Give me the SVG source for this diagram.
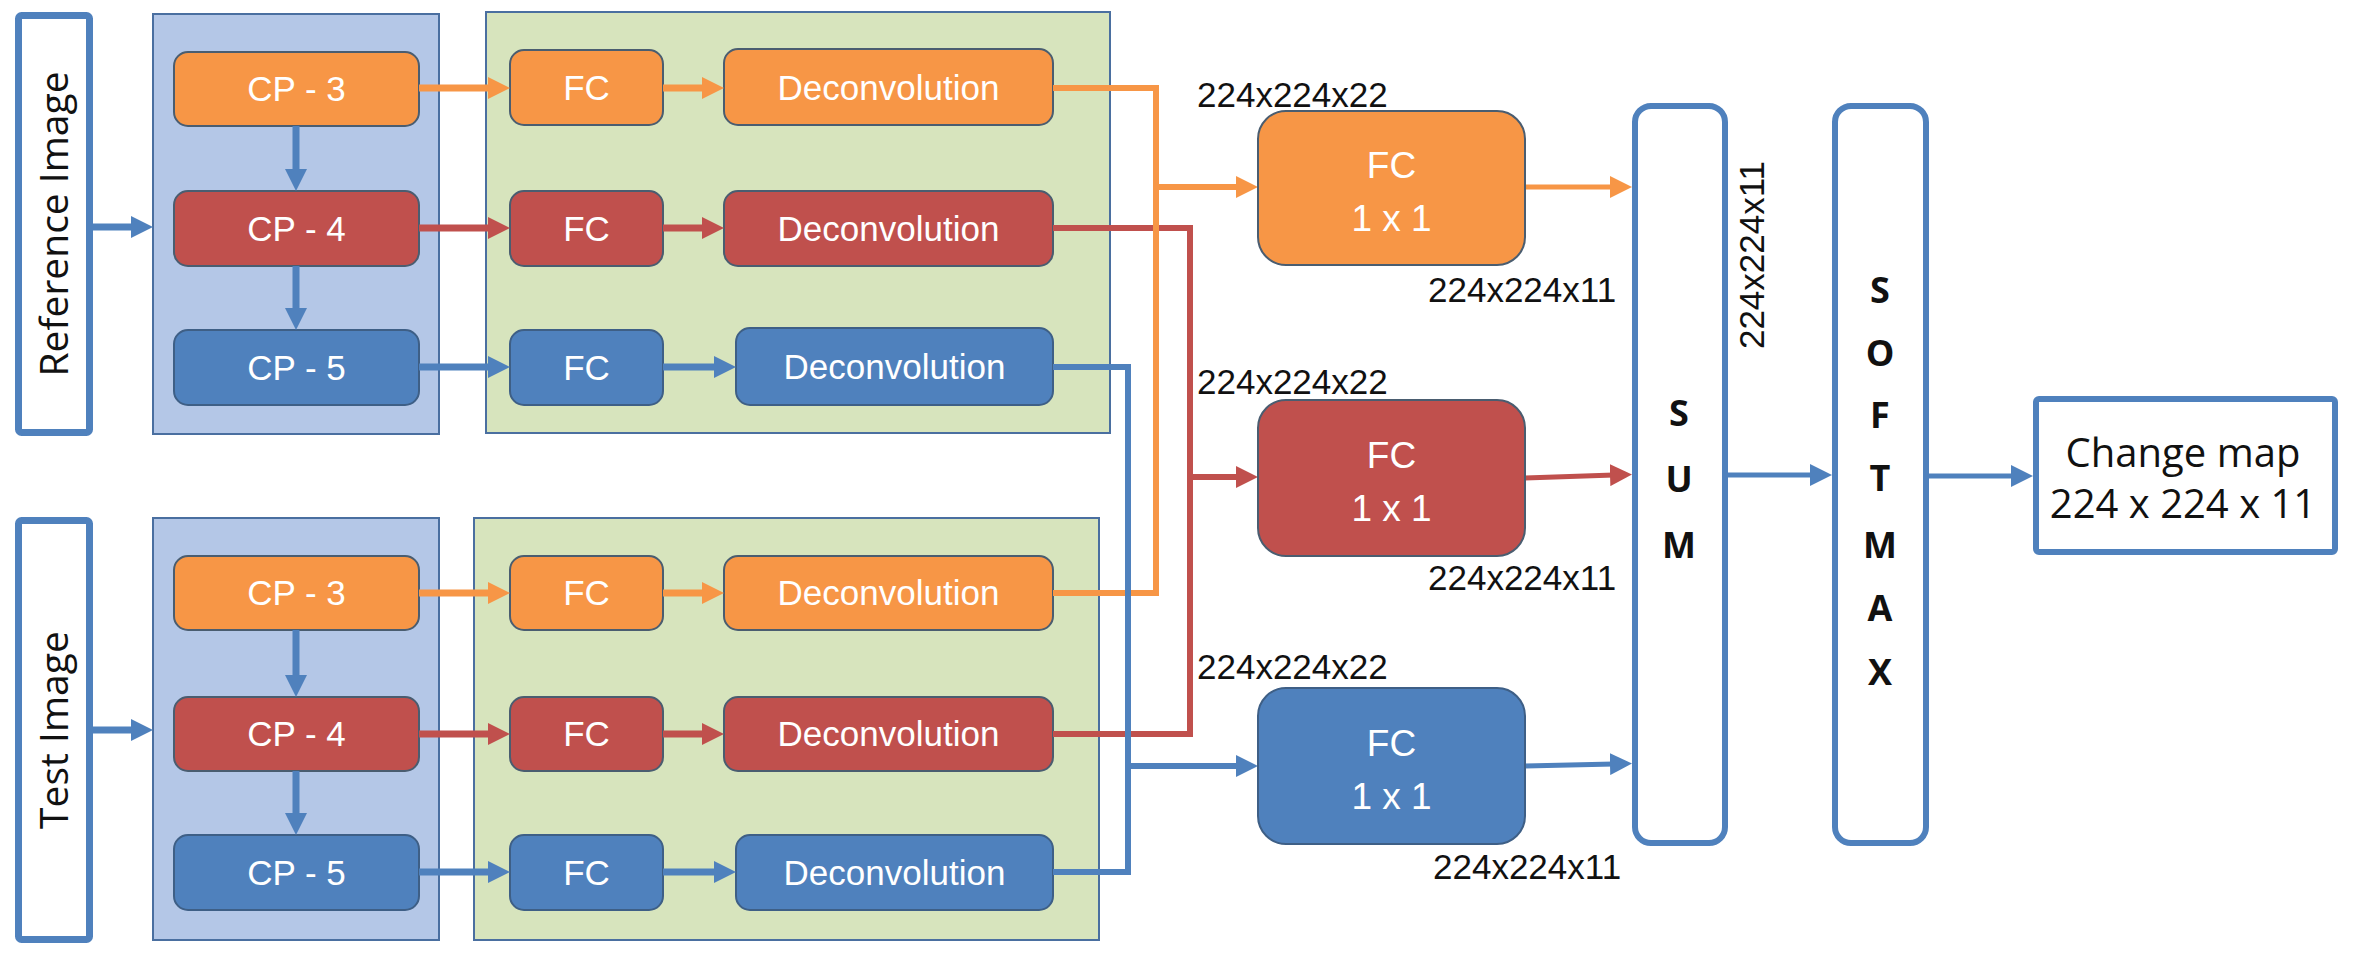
<svg xmlns="http://www.w3.org/2000/svg" width="2356" height="958" viewBox="0 0 2356 958">
<style>
.panelB{fill:#B4C7E7;stroke:#4A6FA0;stroke-width:2}
.panelG{fill:#D7E4BD;stroke:#4A6FA0;stroke-width:2}
.io{fill:#fff;stroke:#4F81BD;stroke-width:7}
.op{fill:#fff;stroke:#4F81BD;stroke-width:6}
.or{fill:#F79646;stroke:#4A5D70;stroke-width:2}
.rd{fill:#C0504D;stroke:#4A5D70;stroke-width:2}
.bl{fill:#4F81BD;stroke:#3E5F86;stroke-width:2}
.lbl{font-family:"Liberation Sans",Arial,sans-serif;font-size:35px;fill:#fff;text-anchor:middle}
.big{font-family:"Liberation Sans",Arial,sans-serif;font-size:37px;fill:#fff;text-anchor:middle}
.dim{font-family:"Liberation Sans",Arial,sans-serif;font-size:35px;fill:#111}
.side{font-family:"Open Sans","DejaVu Sans",sans-serif;font-size:39px;fill:#111;text-anchor:middle}
.let{font-family:"Open Sans","DejaVu Sans",sans-serif;font-weight:bold;font-size:36px;fill:#111;text-anchor:middle}
.cm{font-family:"Open Sans","DejaVu Sans",sans-serif;font-size:40px;fill:#111;text-anchor:middle}
.c{fill:none;stroke-linejoin:miter;stroke-linecap:butt}
.co{stroke:#F79646}.cr{stroke:#C0504D}.cb{stroke:#4F81BD}
.w7{stroke-width:7}.w6{stroke-width:6}.w5{stroke-width:5}
</style>
<defs>
<marker id="ho" markerUnits="userSpaceOnUse" markerWidth="22" markerHeight="22" refX="4" refY="11" orient="auto"><path d="M0,0 L22,11 L0,22 z" fill="#F79646"/></marker>
<marker id="hr" markerUnits="userSpaceOnUse" markerWidth="22" markerHeight="22" refX="4" refY="11" orient="auto"><path d="M0,0 L22,11 L0,22 z" fill="#C0504D"/></marker>
<marker id="hb" markerUnits="userSpaceOnUse" markerWidth="22" markerHeight="22" refX="4" refY="11" orient="auto"><path d="M0,0 L22,11 L0,22 z" fill="#4F81BD"/></marker>
</defs>
<rect width="2356" height="958" fill="#fff"/>

<g id="panels">
<rect class="panelB" x="153" y="14" width="286" height="420"/>
<rect class="panelG" x="486" y="12" width="624" height="421"/>
<rect class="panelB" x="153" y="518" width="286" height="422"/>
<rect class="panelG" x="474" y="518" width="625" height="422"/>
</g>

<g id="reference-image"><rect class="io" x="18.5" y="15.5" width="71" height="417" rx="3"/><text class="side" transform="translate(68,224) rotate(-90)">Reference Image</text></g>
<g id="test-image"><rect class="io" x="18.5" y="520.5" width="71" height="419" rx="3"/><text class="side" transform="translate(68,730) rotate(-90)">Test Image</text></g>

<g id="ref-cp3"><rect class="or" x="174" y="52" width="245" height="74" rx="14"/><text class="lbl" x="296.5" y="101">CP - 3</text></g>
<g id="ref-cp4"><rect class="rd" x="174" y="191" width="245" height="75" rx="14"/><text class="lbl" x="296.5" y="241">CP - 4</text></g>
<g id="ref-cp5"><rect class="bl" x="174" y="330" width="245" height="75" rx="14"/><text class="lbl" x="296.5" y="380">CP - 5</text></g>
<g id="ref-fc3"><rect class="or" x="510" y="50" width="153" height="75" rx="14"/><text class="lbl" x="586.5" y="100">FC</text></g>
<g id="ref-fc4"><rect class="rd" x="510" y="191" width="153" height="75" rx="14"/><text class="lbl" x="586.5" y="241">FC</text></g>
<g id="ref-fc5"><rect class="bl" x="510" y="330" width="153" height="75" rx="14"/><text class="lbl" x="586.5" y="380">FC</text></g>
<g id="ref-dc3"><rect class="or" x="724" y="49" width="329" height="76" rx="14"/><text class="lbl" x="888.5" y="100">Deconvolution</text></g>
<g id="ref-dc4"><rect class="rd" x="724" y="191" width="329" height="75" rx="14"/><text class="lbl" x="888.5" y="241">Deconvolution</text></g>
<g id="ref-dc5"><rect class="bl" x="736" y="328" width="317" height="77" rx="14"/><text class="lbl" x="894.5" y="379">Deconvolution</text></g>

<g id="test-cp3"><rect class="or" x="174" y="556" width="245" height="74" rx="14"/><text class="lbl" x="296.5" y="605">CP - 3</text></g>
<g id="test-cp4"><rect class="rd" x="174" y="697" width="245" height="74" rx="14"/><text class="lbl" x="296.5" y="746">CP - 4</text></g>
<g id="test-cp5"><rect class="bl" x="174" y="835" width="245" height="75" rx="14"/><text class="lbl" x="296.5" y="885">CP - 5</text></g>
<g id="test-fc3"><rect class="or" x="510" y="556" width="153" height="74" rx="14"/><text class="lbl" x="586.5" y="605">FC</text></g>
<g id="test-fc4"><rect class="rd" x="510" y="697" width="153" height="74" rx="14"/><text class="lbl" x="586.5" y="746">FC</text></g>
<g id="test-fc5"><rect class="bl" x="510" y="835" width="153" height="75" rx="14"/><text class="lbl" x="586.5" y="885">FC</text></g>
<g id="test-dc3"><rect class="or" x="724" y="556" width="329" height="74" rx="14"/><text class="lbl" x="888.5" y="605">Deconvolution</text></g>
<g id="test-dc4"><rect class="rd" x="724" y="697" width="329" height="74" rx="14"/><text class="lbl" x="888.5" y="746">Deconvolution</text></g>
<g id="test-dc5"><rect class="bl" x="736" y="835" width="317" height="75" rx="14"/><text class="lbl" x="894.5" y="885">Deconvolution</text></g>

<g id="connectors">
<path class="c cb w7" d="M93,227 H135" marker-end="url(#hb)"/>
<path class="c cb w7" d="M93,730 H135" marker-end="url(#hb)"/>
<path class="c cb w7" d="M296,126 V173" marker-end="url(#hb)"/>
<path class="c cb w7" d="M296,266 V312" marker-end="url(#hb)"/>
<path class="c cb w7" d="M296,630 V679" marker-end="url(#hb)"/>
<path class="c cb w7" d="M296,771 V817" marker-end="url(#hb)"/>
<path class="c co w7" d="M419,88 H492" marker-end="url(#ho)"/>
<path class="c cr w7" d="M419,228 H492" marker-end="url(#hr)"/>
<path class="c cb w7" d="M419,367 H492" marker-end="url(#hb)"/>
<path class="c co w7" d="M663,88 H706" marker-end="url(#ho)"/>
<path class="c cr w7" d="M663,228 H706" marker-end="url(#hr)"/>
<path class="c cb w7" d="M663,367 H718" marker-end="url(#hb)"/>
<path class="c co w7" d="M419,593 H492" marker-end="url(#ho)"/>
<path class="c cr w7" d="M419,734 H492" marker-end="url(#hr)"/>
<path class="c cb w7" d="M419,872 H492" marker-end="url(#hb)"/>
<path class="c co w7" d="M663,593 H706" marker-end="url(#ho)"/>
<path class="c cr w7" d="M663,734 H706" marker-end="url(#hr)"/>
<path class="c cb w7" d="M663,872 H718" marker-end="url(#hb)"/>

<path class="c cr w6" d="M1053,228 H1190 V734 H1053"/>
<path class="c cr w6" d="M1190,477 H1240" marker-end="url(#hr)"/>
<path class="c co w6" d="M1053,88 H1156 V593 H1053"/>
<path class="c co w6" d="M1156,187 H1240" marker-end="url(#ho)"/>
<path class="c cb w6" d="M1053,367 H1128 V872 H1053"/>
<path class="c cb w6" d="M1128,766 H1240" marker-end="url(#hb)"/>

<path class="c co w5" d="M1525,187 H1614" marker-end="url(#ho)"/>
<path class="c cr w5" d="M1525,478 L1614,475" marker-end="url(#hr)"/>
<path class="c cb w5" d="M1525,766 L1614,764" marker-end="url(#hb)"/>
<path class="c cb w5" d="M1728,475 H1814" marker-end="url(#hb)"/>
<path class="c cb w5" d="M1929,476 H2015" marker-end="url(#hb)"/>
</g>

<g id="fc1x1-orange"><rect class="or" x="1258" y="111" width="267" height="154" rx="28"/><text class="big" x="1391.5" y="178">FC</text><text class="big" x="1391.5" y="231">1 x 1</text></g>
<g id="fc1x1-red"><rect class="rd" x="1258" y="400" width="267" height="156" rx="28"/><text class="big" x="1391.5" y="468">FC</text><text class="big" x="1391.5" y="521">1 x 1</text></g>
<g id="fc1x1-blue"><rect class="bl" x="1258" y="688" width="267" height="156" rx="28"/><text class="big" x="1391.5" y="756">FC</text><text class="big" x="1391.5" y="809">1 x 1</text></g>

<g id="dims">
<text class="dim" x="1197" y="107">224x224x22</text>
<text class="dim" x="1197" y="394">224x224x22</text>
<text class="dim" x="1197" y="679">224x224x22</text>
<text class="dim" x="1428" y="302">224x224x11</text>
<text class="dim" x="1428" y="590">224x224x11</text>
<text class="dim" x="1433" y="879">224x224x11</text>
<text class="dim" text-anchor="middle" transform="translate(1764,255) rotate(-90)">224x224x11</text>
</g>

<g id="sum"><rect class="op" x="1635" y="106" width="90" height="737" rx="16"/>
<text class="let" x="1679" y="426">S</text><text class="let" x="1679" y="492">U</text><text class="let" x="1679" y="558">M</text></g>

<g id="softmax"><rect class="op" x="1835" y="106" width="91" height="737" rx="16"/>
<text class="let" x="1880" y="303">S</text><text class="let" x="1880" y="366">O</text><text class="let" x="1880" y="428">F</text><text class="let" x="1880" y="491">T</text><text class="let" x="1880" y="558">M</text><text class="let" x="1880" y="621">A</text><text class="let" x="1880" y="685">X</text></g>

<g id="change-map"><rect class="op" x="2036" y="399" width="299" height="153" rx="3"/>
<text class="cm" x="2183" y="467">Change map</text><text class="cm" x="2183" y="518">224 x 224 x 11</text></g>
</svg>
